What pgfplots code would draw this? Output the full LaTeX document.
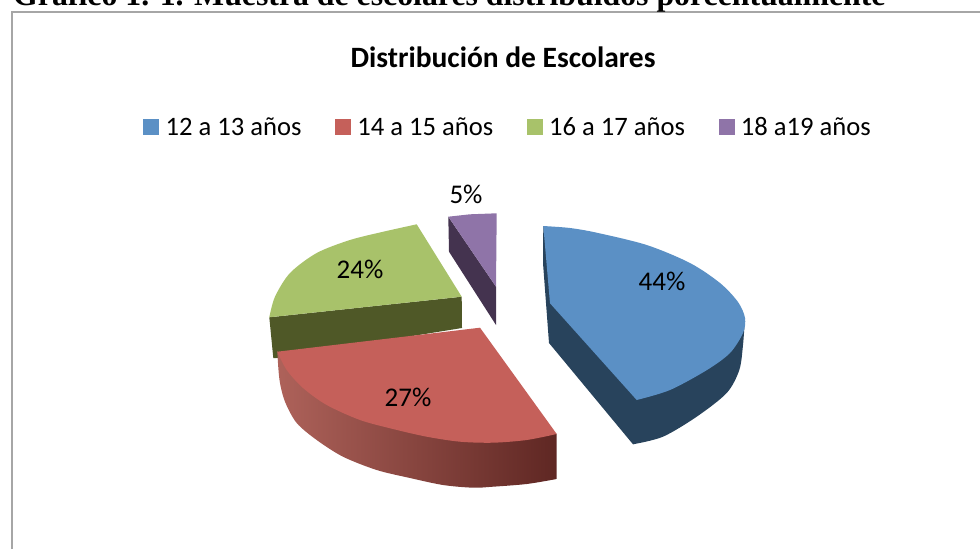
\documentclass[border=0pt]{standalone}
\usepackage{fontspec}
\setmainfont{Carlito}
\newfontfamily\headfont{Liberation Serif}
\usepackage{pgfplots}
\pgfplotsset{compat=1.18}
\definecolor{bluetop}{HTML}{5B90C5}
\definecolor{blueside}{HTML}{28435C}
\definecolor{redtop}{HTML}{C5605A}
\definecolor{greentop}{HTML}{A8C26A}
\definecolor{greenside}{HTML}{4F5827}
\definecolor{purpletop}{HTML}{8F74A8}
\definecolor{purpleside}{HTML}{44334F}
\definecolor{redA}{HTML}{AE625A}
\definecolor{redB}{HTML}{984F46}
\definecolor{redC}{HTML}{5F2723}
\begin{document}
\begin{tikzpicture}[x=1pt,y=1pt]
\clip (0,0) rectangle (980,549);
\begin{axis}[
  at={(0,0)},anchor=south west,
  scale only axis,width=980pt,height=549pt,
  xmin=0,xmax=980,ymin=0,ymax=549,y dir=reverse,
  hide axis,clip=false,
  legend columns=4,
  legend cell align=left,
  legend style={at={(axis cs:508,127)},anchor=center,draw=none,fill=none,font=\fontsize{26.6}{28}\selectfont,
     /tikz/every even column/.style={column sep=31.5pt},
     /tikz/every odd column/.style={column sep=5pt}},
]
\addlegendimage{legend image code/.code={\fill[bluetop] (0pt,-7.5pt) rectangle (15pt,7.5pt);}}\addlegendentry{12 a 13 años}
\addlegendimage{legend image code/.code={\fill[redtop] (0pt,-7.5pt) rectangle (15pt,7.5pt);}}\addlegendentry{14 a 15 años}
\addlegendimage{legend image code/.code={\fill[greentop] (0pt,-7.5pt) rectangle (15pt,7.5pt);}}\addlegendentry{16 a 17 años}
\addlegendimage{legend image code/.code={\fill[purpletop] (0pt,-7.5pt) rectangle (15pt,7.5pt);}}\addlegendentry{18 a19 años}
% frame
\addplot[forget plot,color=black!35,line width=1.4pt] coordinates {(12,549)(12,12)(980,12)};
% blue side
\addplot[forget plot,draw=none,fill=blueside] coordinates {(543.3,226)(543,263)(549,343)(633,444.3)(700,400)(745,318)} -- cycle;
\addplot[forget plot,smooth,draw=none,fill=blueside] coordinates {(633,444.3)(663,436.7)(696.7,416.7)(726.7,393)(739.3,370)(743,345)(745,318)};
% blue top
\addplot[forget plot,draw=none,fill=bluetop] coordinates {(543.3,226)(640,300)(636.7,400)(550,303.3)} -- cycle;
\addplot[forget plot,smooth,draw=none,fill=bluetop] coordinates {(543.3,226)(570,228)(596.7,232.7)(646.7,245)(690,263)(720,283)(738,302)(745,318)(743,333)(730,353)(707,370)(670,390)(636.7,400)};
% green
\addplot[forget plot,draw=none,fill=greenside] coordinates {(269.3,317.3)(461.7,296.7)(462,328)(276.7,358)(273.3,358)} -- cycle;
\addplot[forget plot,draw=none,fill=greentop] coordinates {(416.7,224.3)(330,270)(269.3,317.3)(461.7,296.7)} -- cycle;
\addplot[forget plot,smooth,draw=none,fill=greentop] coordinates {(416.7,224.3)(383.3,231.7)(350,240)(316.7,253)(290,273)(275,296.7)(269.3,317.3)};
% red side
\addplot[forget plot,draw=none,left color=redA,middle color=redB,right color=redC] coordinates {(277.3,351.7)(400,465)(556.7,479)(556.7,434)} -- cycle;
\addplot[forget plot,smooth,draw=none,left color=redA,middle color=redB,right color=redC] coordinates {(277.3,351.7)(279.5,380)(285,401.7)(296.7,423)(316.7,440)(343,456.7)(376.7,470)(410,478)(443,485)(473,487.7)(493,486.7)(526.7,484)(556.7,479)};
% red top
\addplot[forget plot,draw=none,fill=redtop] coordinates {(277.3,351.7)(480,327.7)(556.7,434)(420,410)} -- cycle;
\addplot[forget plot,smooth,draw=none,fill=redtop] coordinates {(556.7,434)(526.7,440)(493,442.7)(460,441.7)(426.7,436.7)(393,429)(360,420)(326.7,405)(303,388)(286.7,370)(277.3,351.7)};
% purple
\addplot[forget plot,draw=none,fill=purpleside] coordinates {(448.3,216.7)(449,251.7)(496,325)(496,286.7)} -- cycle;
\addplot[forget plot,draw=none,fill=purpletop] coordinates {(448.3,216.7)(470,214.3)(496.7,213.3)(496,286.7)} -- cycle;
% texts
\node[font=\fontsize{29.5}{32}\selectfont\bfseries] at (axis cs:503,57) {Distribución de Escolares};
\node[font=\fontsize{27}{30}\selectfont] at (axis cs:662,281) {44\%};
\node[font=\fontsize{27}{30}\selectfont] at (axis cs:408,397) {27\%};
\node[font=\fontsize{27}{30}\selectfont] at (axis cs:360,269) {24\%};
\node[font=\fontsize{27}{30}\selectfont] at (axis cs:466,194) {5\%};
\node[anchor=base west,inner sep=0pt,font=\headfont\fontsize{31.8}{34}\selectfont\bfseries] at (axis cs:13,5) {Gráfico 1. 1. Muestra de escolares distribuidos porcentualmente};
\end{axis}
\end{tikzpicture}
\end{document}
